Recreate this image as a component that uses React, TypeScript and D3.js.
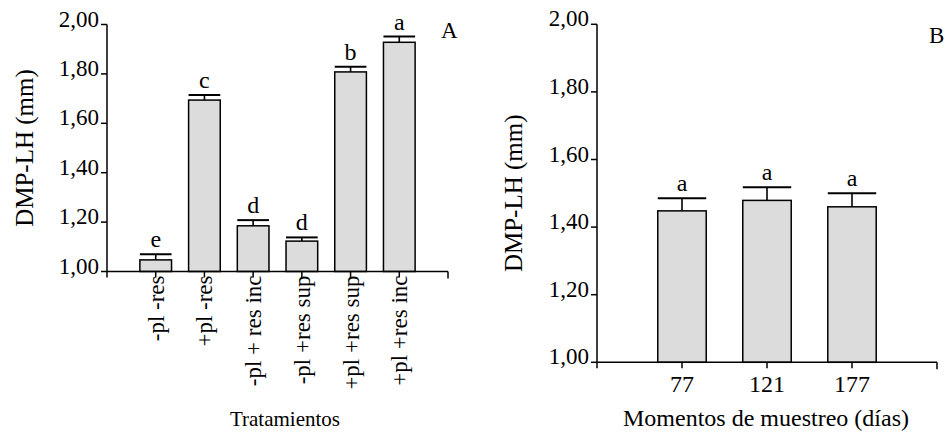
import React from "react";
import * as d3 from "d3";

const catsA = ["-pl -res", "+pl -res", "-pl + res inc", "-pl +res sup", "+pl +res sup", "+pl +res inc"];
const meansA = [1.047, 1.694, 1.185, 1.123, 1.808, 1.928];
const errTopA = [1.07, 1.715, 1.208, 1.138, 1.829, 1.951];
const lettersA = ["e", "c", "d", "d", "b", "a"];

const catsB = ["77", "121", "177"];
const meansB = [1.448, 1.479, 1.46];
const errTopB = [1.485, 1.518, 1.5];
const lettersB = ["a", "a", "a"];

const yTicks = [1.0, 1.2, 1.4, 1.6, 1.8, 2.0];
const fmt = (v: number) => v.toFixed(2).replace(".", ",");

const FONT = "Liberation Serif";
const FILL = "#dcdcdc";

type PanelProps = {
  cats: string[];
  means: number[];
  errTop: number[];
  letters: string[];
  x0: number;
  x1: number;
  yTop: number;
  yBot: number;
  barFrac: number;
  rotateLabels: boolean;
  title: string;
  titleSize: number;
  titleX: number;
  panelLabel: string;
  panelLabelX: number;
  panelLabelY: number;
  yTitleX: number;
};

function Panel(p: PanelProps) {
  const n = p.cats.length;
  const x = d3.scaleLinear().domain([0, n + 1]).range([p.x0, p.x1]);
  const y = d3.scaleLinear().domain([1, 2]).range([p.yBot, p.yTop]);
  const step = x(1) - x(0);
  const bw = step * p.barFrac;
  const yMid = (p.yTop + p.yBot) / 2;
  const ts = { fontFamily: FONT } as React.CSSProperties;
  return (
    <g style={ts} fill="#000">
      {p.cats.map((c, i) => {
        const cx = x(i + 1);
        return (
          <g key={c}>
            <line x1={cx} x2={cx} y1={y(p.means[i])} y2={y(p.errTop[i])} stroke="#000" strokeWidth={1.6} />
            <line x1={cx - bw / 2} x2={cx + bw / 2} y1={y(p.errTop[i])} y2={y(p.errTop[i])} stroke="#000" strokeWidth={2} />
            <rect x={cx - bw / 2} y={y(p.means[i])} width={bw} height={y(1) - y(p.means[i])} fill={FILL} stroke="#000" strokeWidth={1.5} />
            <text style={ts} x={cx} y={y(p.errTop[i]) - 7} textAnchor="middle" fontSize={24}>{p.letters[i]}</text>
          </g>
        );
      })}
      <line x1={p.x0} x2={p.x0} y1={y(2)} y2={p.yBot + 6} stroke="#000" strokeWidth={1.5} />
      {yTicks.map((t) => (
        <g key={t}>
          <line x1={p.x0 - 6} x2={p.x0} y1={y(t)} y2={y(t)} stroke="#000" strokeWidth={1.5} />
          <text style={ts} x={p.x0 - 8} y={y(t) + 2} textAnchor="end" fontSize={23}>{fmt(t)}</text>
        </g>
      ))}
      <line x1={p.x0} x2={p.x1} y1={p.yBot} y2={p.yBot} stroke="#000" strokeWidth={1.5} />
      <line x1={p.x1} x2={p.x1} y1={p.yBot} y2={p.yBot + 7} stroke="#000" strokeWidth={1.5} />
      {p.cats.map((c, i) => {
        const cx = x(i + 1);
        return (
          <g key={"t" + c}>
            <line x1={cx} x2={cx} y1={p.yBot} y2={p.yBot + 6} stroke="#000" strokeWidth={1.5} />
            {p.rotateLabels ? (
              <text
                style={ts}
                transform={`translate(${cx + 8},${p.yBot + 4}) rotate(-90)`}
                textAnchor="end"
                fontSize={23}
              >
                {c}
              </text>
            ) : (
              <text style={ts} x={cx} y={p.yBot + 30} textAnchor="middle" fontSize={24}>{c}</text>
            )}
          </g>
        );
      })}
      <text style={ts} x={p.titleX} y={426} textAnchor="middle" fontSize={p.titleSize}>{p.title}</text>
      <text style={ts} transform={`translate(${p.yTitleX},${yMid}) rotate(-90)`} textAnchor="middle" fontSize={25}>DMP-LH (mm)</text>
      <text style={ts} x={p.panelLabelX} y={p.panelLabelY} fontSize={23}>{p.panelLabel}</text>
    </g>
  );
}

export default function App() {
  return (
    <svg width={949} height={432} style={{ position: "absolute", left: 0, top: 0, background: "#fff" }}>
      <rect width={949} height={432} fill="#fff" />
      <Panel
        cats={catsA}
        means={meansA}
        errTop={errTopA}
        letters={lettersA}
        x0={107}
        x1={448}
        yTop={24.5}
        yBot={271.5}
        barFrac={0.65}
        rotateLabels={true}
        title="Tratamientos"
        titleSize={21}
        titleX={285}
        panelLabel="A"
        panelLabelX={441}
        panelLabelY={38}
        yTitleX={33}
      />
      <Panel
        cats={catsB}
        means={meansB}
        errTop={errTopB}
        letters={lettersB}
        x0={597}
        x1={937}
        yTop={24.3}
        yBot={362.3}
        barFrac={0.57}
        rotateLabels={false}
        title="Momentos de muestreo (días)"
        titleSize={24}
        titleX={766}
        panelLabel="B"
        panelLabelX={929}
        panelLabelY={43}
        yTitleX={522}
      />
    </svg>
  );
}
